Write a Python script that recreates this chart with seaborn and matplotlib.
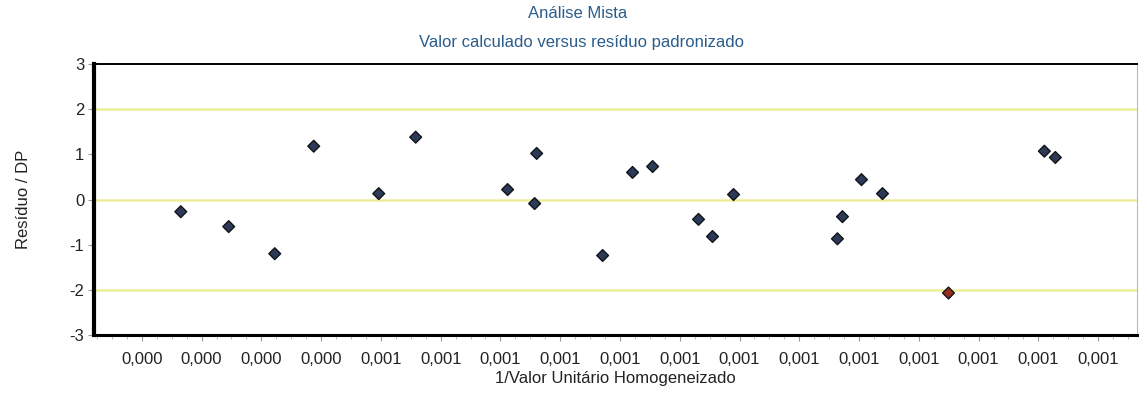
import numpy as np
import pandas as pd
import matplotlib
matplotlib.use("Agg")
import matplotlib.pyplot as plt
import seaborn as sns
from matplotlib.ticker import FixedLocator, MultipleLocator

# 1/valor unitario homogeneizado (eixo x) e residuo padronizado (eixo y)
inv_valor = [0.0003326, 0.0003727, 0.0004112, 0.0004438, 0.0004982, 0.0005291,
             0.0006060, 0.0006303, 0.0006286, 0.0006855, 0.0007105, 0.0007273,
             0.0007657, 0.0007774, 0.0007950, 0.0008819, 0.0008861, 0.0009020,
             0.0009196, 0.0009748, 0.0010550, 0.0010642]
residuo = [-0.27, -0.60, -1.20, 1.18, 0.13, 1.38,
           0.22, 1.02, -0.09, -1.24, 0.60, 0.73,
           -0.44, -0.82, 0.11, -0.87, -0.38, 0.44,
           0.13, -2.07, 1.07, 0.93]

tick_vals = [0.00030, 0.00035, 0.00040, 0.00045, 0.00050, 0.00055, 0.00060,
             0.00065, 0.00070, 0.00075, 0.00080, 0.00085, 0.00090, 0.00095,
             0.00100, 0.00105, 0.00110]
tick_labels = ["0,000", "0,000", "0,000", "0,000", "0,001", "0,001", "0,001",
               "0,001", "0,001", "0,001", "0,001", "0,001", "0,001", "0,001",
               "0,001", "0,001", "0,001"]
ref_lines = [-2, 0, 2]

df = pd.DataFrame({"x": inv_valor, "y": residuo})
df["status"] = np.where(df["y"].abs() > 2, "fora", "ok")

sns.set_style("white")
plt.rcParams["font.family"] = ["Liberation Sans", "DejaVu Sans"]
plt.rcParams["axes.unicode_minus"] = False

fig = plt.figure(figsize=(11.39, 3.94), dpi=100)
ax = fig.add_axes([94 / 1139, 1 - 335 / 394, (1137 - 94) / 1139, (335 - 64) / 394])

for r in ref_lines:
    ax.axhline(r, color="#eeee9a", lw=1.8, zorder=1)

sns.scatterplot(data=df, x="x", y="y", hue="status", style="status",
                palette={"ok": "#2c3a58", "fora": "#9a2e1e"},
                markers={"ok": "D", "fora": "D"}, s=36,
                edgecolor="#111418", linewidth=1.0, legend=False, ax=ax, zorder=3)

step = 0.00005
ax.set_xlim(tick_vals[0] - 0.8 * step, tick_vals[-1] + 0.65 * step)
ax.set_ylim(-3, 3)
ax.xaxis.set_major_locator(FixedLocator(tick_vals))
ax.set_xticklabels(tick_labels)
ax.xaxis.set_minor_locator(MultipleLocator(step / 4))
ax.set_yticks([-3, -2, -1, 0, 1, 2, 3])
ax.tick_params(axis="both", which="major", labelsize=12, length=4,
               width=0.8, colors="#222222", bottom=True, left=True)
ax.tick_params(axis="both", which="major", color="#999999")
ax.tick_params(axis="x", which="minor", length=3, color="#bbbbbb", width=0.7, bottom=True)
ax.tick_params(axis="x", pad=8)
ax.tick_params(axis="y", pad=3)

ax.spines["left"].set_linewidth(3.0)
ax.spines["bottom"].set_linewidth(2.2)
ax.spines["top"].set_linewidth(1.4)
ax.spines["right"].set_linewidth(0.8)
ax.spines["right"].set_color("#bbbbbb")
for s in ["left", "bottom", "top"]:
    ax.spines[s].set_color("#000000")

ax.set_xlabel("1/Valor Unitário Homogeneizado", fontsize=12, color="#222222", labelpad=3)
ax.set_ylabel("Resíduo / DP", fontsize=12, color="#222222", labelpad=28)

fig.text(578 / 1139, 1 - 14 / 394, "Análise Mista", ha="center", va="center",
         fontsize=12, color="#2a5d8c")
fig.text(581 / 1139, 1 - 42 / 394, "Valor calculado versus resíduo padronizado",
         ha="center", va="center", fontsize=12, color="#2a5d8c")

plt.savefig("out.png", dpi=100)
plt.close()
